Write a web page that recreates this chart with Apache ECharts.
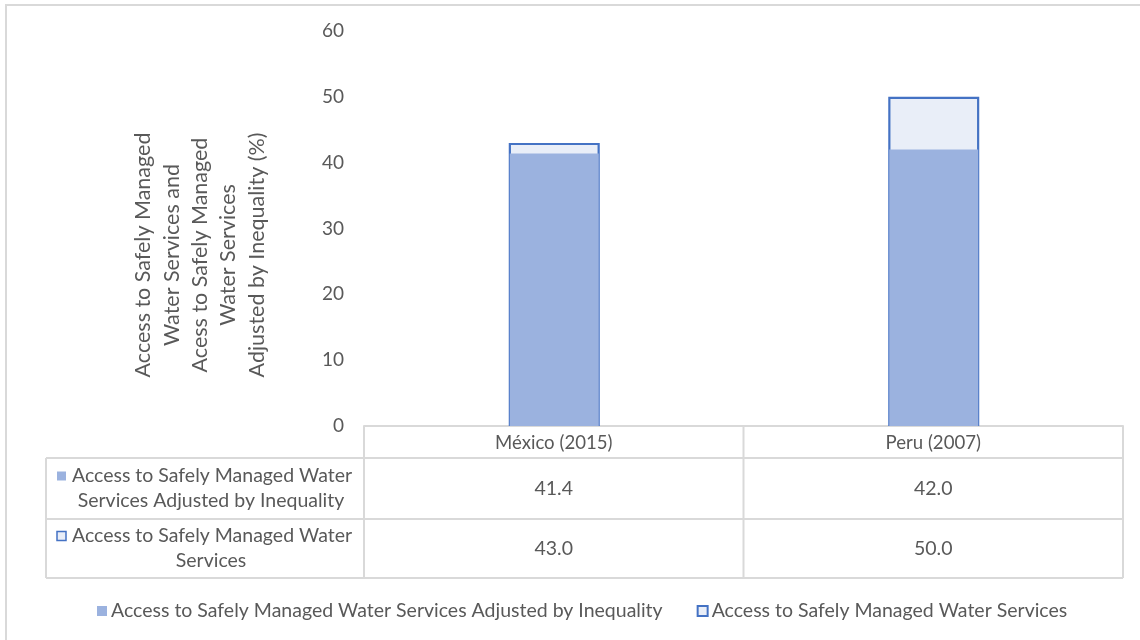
<!DOCTYPE html>
<html>
<head>
<meta charset="utf-8">
<script src="https://cdn.jsdelivr.net/npm/echarts@6/dist/echarts.min.js"></script>
<style>
  html, body { margin: 0; padding: 0; background: #ffffff; }
  #chart { width: 1140px; height: 640px; }
</style>
</head>
<body>
<div id="chart"></div>
<script>
// Countries (survey year) shown on the category axis
const categories = ['México (2015)', 'Peru (2007)'];

// Access to safely managed water services, adjusted by inequality (%)
const adjustedValues = [41.4, 42.0];

// Access to safely managed water services (%)
const accessValues = [43.0, 50.0];

const seriesNames = [
  'Access to Safely Managed Water Services Adjusted by Inequality',
  'Access to Safely Managed Water Services'
];

// Row headers of the data table under the plot (wrapped lines)
const tableRowLabels = [
  ['Access to Safely Managed Water', 'Services Adjusted by Inequality'],
  ['Access to Safely Managed Water', 'Services']
];

// Value axis ticks
const yMin = 0, yMax = 60, yInterval = 10;

const axisTitle = 'Access to Safely Managed\nWater Services and\nAcess to Safely Managed\nWater Services\nAdjusted by Inequality (%)';

const FONT = 'Lato, "Open Sans", sans-serif';
const TEXT = '#595959';
const GRIDLINE = '#d9d9d9';
const FILL_ADJ = '#9bb2df';
const FILL_ACC = '#e9eef8';
const EDGE_ACC = '#4472c4';

const chart = echarts.init(document.getElementById('chart'), null, { renderer: 'canvas' });

const gridBox = { left: 364, right: 17, top: 31, bottom: 214 };
const outerBarW = 91;   // drawn width of the outlined bar
const innerBarW = 89;   // filled bar sits inside the outline

chart.setOption({
  animation: false,
  backgroundColor: '#ffffff',
  textStyle: { fontFamily: FONT, color: TEXT },
  grid: gridBox,
  xAxis: {
    type: 'category',
    data: categories,
    axisLine: { show: true, lineStyle: { color: GRIDLINE, width: 2 } },
    axisTick: { show: false },
    axisLabel: { color: TEXT, fontSize: 18.6, fontFamily: FONT, margin: 7, verticalAlign: 'top' },
    splitLine: { show: false }
  },
  yAxis: {
    type: 'value',
    min: yMin, max: yMax, interval: yInterval,
    axisLine: { show: false },
    axisTick: { show: false },
    splitLine: { show: false },
    axisLabel: { color: TEXT, fontSize: 19, fontFamily: FONT, margin: 20 }
  },
  legend: {
    top: 596,
    left: 92,
    itemWidth: 10,
    itemHeight: 10,
    itemGap: 34,
    icon: 'rect',
    textStyle: { color: TEXT, fontSize: 19.5, fontFamily: FONT, padding: [0, 0, 0, -1] },
    data: [seriesNames[0], seriesNames[1]]
  },
  series: [
    {
      name: seriesNames[1],
      type: 'bar',
      data: accessValues,
      barWidth: outerBarW,
      barGap: (-100 + 100 / outerBarW) + '%',
      itemStyle: { color: FILL_ACC, borderColor: EDGE_ACC, borderWidth: 2.2 }
    },
    {
      name: seriesNames[0],
      type: 'bar',
      data: adjustedValues,
      barWidth: innerBarW,
      barGap: (-100 + 100 / outerBarW) + '%',
      itemStyle: { color: FILL_ADJ }
    }
  ]
});

// Data table beneath the plot, laid out from the axis positions
function drawTable() {
  const W = chart.getWidth(), H = chart.getHeight();
  const plotL = gridBox.left, plotR = W - gridBox.right;
  const axisY = H - gridBox.bottom;
  const tableL = 46;
  const rowTops = [axisY + 32, axisY + 93, axisY + 152];
  const centers = categories.map(c => chart.convertToPixel({ xAxisIndex: 0 }, c));
  const band = (plotR - plotL) / categories.length;
  const els = [];
  const line = (x1, y1, x2, y2) => els.push({
    type: 'line', silent: true,
    shape: { x1, y1, x2, y2 },
    style: { stroke: GRIDLINE, lineWidth: 2 }
  });

  // frame around the whole chart
  els.push({ type: 'rect', silent: true, shape: { x: 6, y: 5, width: W, height: H },
    style: { fill: null, stroke: '#d9d9d9', lineWidth: 2 } });

  rowTops.forEach(y => line(tableL, y, plotR, y));
  line(tableL, rowTops[0], tableL, rowTops[2]);
  for (let i = 0; i <= categories.length; i++) {
    const x = plotL + band * i;
    line(x, axisY, x, rowTops[2]);
  }

  const rows = [adjustedValues, accessValues];
  rows.forEach((vals, r) => {
    const top = rowTops[r], bottom = rowTops[r + 1];
    const mid = (top + bottom) / 2;
    vals.forEach((v, i) => els.push({
      type: 'text', silent: true,
      style: { x: centers[i], y: mid, text: v.toFixed(1), fill: TEXT,
        font: '19.5px ' + FONT, align: 'center', verticalAlign: 'middle' }
    }));
    const lines = tableRowLabels[r];
    const y1 = mid - 12.5, y2 = mid + 12.5;
    els.push({ type: 'text', silent: true,
      style: { x: 212, y: y1, text: lines[0], fill: TEXT,
        font: '19.5px ' + FONT, align: 'center', verticalAlign: 'middle' } });
    els.push({ type: 'text', silent: true,
      style: { x: 211, y: y2, text: lines[1], fill: TEXT,
        font: '19.5px ' + FONT, align: 'center', verticalAlign: 'middle' } });
    // legend key in front of the first line
    const keyX = 57, keyY = y1 - 4.5;
    els.push({ type: 'rect', silent: true,
      shape: { x: keyX, y: keyY, width: 9, height: 9 },
      style: r === 0 ? { fill: FILL_ADJ } : { fill: FILL_ACC, stroke: EDGE_ACC, lineWidth: 1.5 } });
  });

  // value axis title
  els.push({ type: 'text', silent: true, x: 200, y: 255, rotation: Math.PI / 2,
    style: { x: 0, y: 0, text: axisTitle, fill: TEXT, font: '21.5px ' + FONT,
      align: 'center', verticalAlign: 'middle', lineHeight: 28.3 } });

  chart.setOption({ graphic: { elements: els } });
}
drawTable();
</script>
</body>
</html>
